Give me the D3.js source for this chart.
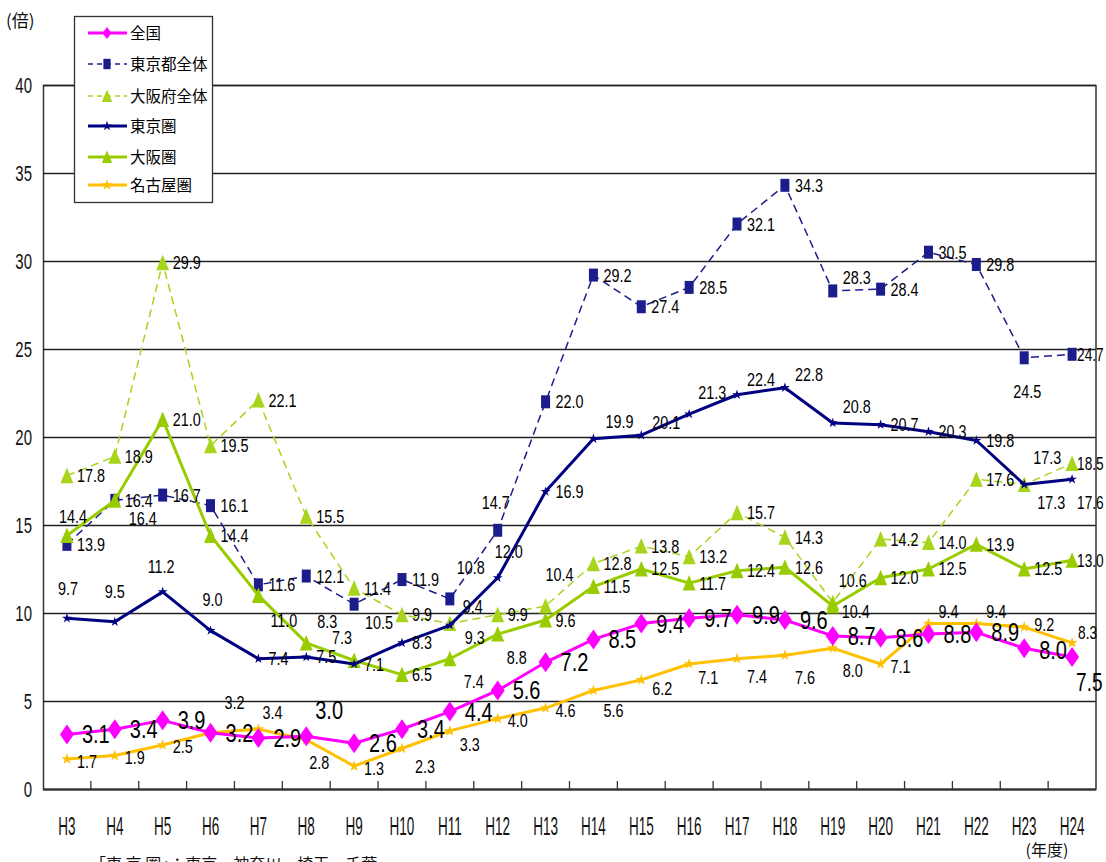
<!DOCTYPE html>
<html>
<head>
<meta charset="utf-8">
<script src="https://cdn.jsdelivr.net/npm/d3@7"></script>
<style>
  html, body { margin: 0; padding: 0; background: #fff; }
  svg { display: block; }
</style>
</head>
<body>
<div id="chart"></div>
<script>
// ---------- data ----------
const categories = ["H3","H4","H5","H6","H7","H8","H9","H10","H11","H12","H13","H14","H15","H16","H17","H18","H19","H20","H21","H22","H23","H24"];
const zenkoku     = [3.1,3.4,3.9,3.2,2.9,3.0,2.6,3.4,4.4,5.6,7.2,8.5,9.4,9.7,9.9,9.6,8.7,8.6,8.8,8.9,8.0,7.5];
const tokyoTo     = [13.9,16.4,16.7,16.1,11.6,12.1,10.5,11.9,10.8,14.7,22.0,29.2,27.4,28.5,32.1,34.3,28.3,28.4,30.5,29.8,24.5,24.7];
const osakaFu     = [17.8,18.9,29.9,19.5,22.1,15.5,11.4,9.9,9.4,9.9,10.4,12.8,13.8,13.2,15.7,14.3,10.6,14.2,14.0,17.6,17.3,18.5];
const tokyoKen    = [9.7,9.5,11.2,9.0,7.4,7.5,7.1,8.3,9.3,12.0,16.9,19.9,20.1,21.3,22.4,22.8,20.8,20.7,20.3,19.8,17.3,17.6];
const osakaKen    = [14.4,16.4,21.0,14.4,11.0,8.3,7.3,6.5,7.4,8.8,9.6,11.5,12.5,11.7,12.4,12.6,10.4,12.0,12.5,13.9,12.5,13.0];
const nagoyaKen   = [1.7,1.9,2.5,3.2,3.4,2.8,1.3,2.3,3.3,4.0,4.6,5.6,6.2,7.1,7.4,7.6,8.0,7.1,9.4,9.4,9.2,8.3];
const seriesNames = ["全国","東京都全体","大阪府全体","東京圏","大阪圏","名古屋圏"];
const yTicks = [0,5,10,15,20,25,30,35,40];
const yUnit = "(倍)";
const xUnit = "(年度)";
const note = "「東 京 圏」：東京・神奈川・埼玉・千葉";

(function () {
// ---------- layout / style ----------
const W = 1106, H = 862;
const pL = 43, pR = 1096, pT = 85, pB = 789;
const SANS = "'Liberation Sans', Arial, sans-serif";
const CJK = "'Noto Sans CJK JP','Noto Sans CJK SC',sans-serif";

const series = [
  { name: seriesNames[0], values: zenkoku,   color: "#FF00FF", width: 3,   dash: null,  marker: "diamond", big: true,
    def: [15, 0], over: {5: [9, -26], 20: [15, 2], 21: [4, 25]} },
  { name: seriesNames[1], values: tokyoTo,   color: "#1C1C8C", width: 1.5, dash: "8,5", marker: "square",
    def: [10, 0], over: {6: [11, 18], 8: [7, -31], 9: [-16, -28], 16: [10, -13], 20: [-11, 34], 21: [5, 0]} },
  { name: seriesNames[2], values: osakaFu,   color: "#A8D41C", width: 1.5, dash: "8,5", marker: "triangle",
    def: [10, 0], over: {8: [13, -17], 10: [0, -31], 16: [6, -22], 20: [9, -27], 21: [5, 0]} },
  { name: seriesNames[3], values: tokyoKen,  color: "#000080", width: 3,   dash: null,  marker: "star",
    def: [10, 0], over: {0: [-9, -30], 1: [-10, -30], 2: [-15, -25], 3: [-8, -31], 8: [15, 12], 9: [-3, -26],
                         11: [12, -17], 12: [11, -13], 13: [9, -22], 14: [10, -15], 15: [10, -13], 16: [10, -16],
                         20: [13, 18], 21: [5, 23]} },
  { name: seriesNames[4], values: osakaKen,  color: "#99CC00", width: 3,   dash: null,  marker: "triangle",
    def: [10, 0], over: {0: [-8, -19], 1: [14, 18], 4: [12, 25], 5: [11, -21], 6: [-22, -23], 8: [14, 23], 9: [9, 23], 16: [9, 6], 21: [5, 0]} },
  { name: seriesNames[5], values: nagoyaKen, color: "#FFC000", width: 3,   dash: null,  marker: "star2",
    def: [10, 2], over: {3: [14, -30], 4: [4, -17], 5: [3, 23], 7: [13, 18], 8: [10, 14], 11: [10, 20], 12: [11, 9],
                         13: [9, 13], 14: [10, 18], 15: [10, 22], 16: [10, 22], 18: [10, -12], 19: [10, -12], 20: [10, -3], 21: [6, -10]} }
];

// ---------- svg ----------
const svg = d3.select("#chart").append("svg")
  .attr("width", W).attr("height", H)
  .style("background", "#fff");

const x = d3.scaleBand().domain(categories).range([pL, pR]).paddingInner(0).paddingOuter(0);
const cx = c => x(c) + x.bandwidth() / 2;
const y = d3.scaleLinear().domain([0, 40]).range([pB, pT]);

// gridlines + y axis
const yAxis = d3.axisLeft(y).tickValues(yTicks).tickSize(-(pR - pL)).tickPadding(11).tickFormat(d3.format("d"));
const gy = svg.append("g").attr("transform", `translate(${pL},0)`).call(yAxis);
gy.select(".domain").attr("stroke", "#333").attr("stroke-width", 1.5);
gy.selectAll(".tick line").attr("stroke", "#222").attr("stroke-width", 1.6);
gy.selectAll(".tick text")
  .attr("x", 0)
  .attr("transform", "translate(-11,0) scale(0.68,1)")
  .attr("dy", "0.36em")
  .attr("font-family", SANS).attr("font-size", 22).attr("fill", "#111");

// right border
svg.append("line").attr("x1", pR).attr("x2", pR).attr("y1", pT).attr("y2", pB)
  .attr("stroke", "#333").attr("stroke-width", 1.5);

// x axis
const xAxis = d3.axisBottom(x).tickSize(0).tickPadding(0);
const gx = svg.append("g").attr("transform", `translate(0,${pB})`).call(xAxis);
gx.select(".domain").attr("stroke", "#333").attr("stroke-width", 2);
gx.selectAll(".tick text").remove();
gx.selectAll(".tick").each(function(d) {
  d3.select(this).append("text")
    .attr("transform", `translate(0,46) scale(0.52,1)`)
    .attr("text-anchor", "middle")
    .attr("font-family", SANS).attr("font-size", 26).attr("fill", "#111")
    .text(d);
});
// tick marks on band boundaries (inward)
svg.append("g").selectAll("line").data(categories.slice(1)).join("line")
  .attr("x1", d => x(d)).attr("x2", d => x(d))
  .attr("y1", pB).attr("y2", pB - 8)
  .attr("stroke", "#333").attr("stroke-width", 1.3);

// marker generator
function markerPath(type, big) {
  switch (type) {
    case "diamond": return big ? "M0,-10L7,0L0,10L-7,0Z" : "M0,-6L4.5,0L0,6L-4.5,0Z";
    case "square":  return "M-4.5,-6.5H4.5V6.5H-4.5Z";
    case "triangle":return "M0,-8L6.5,7.5H-6.5Z";
    case "star":    return d3.symbol(d3.symbolStar, 30)();
    case "star2":   return d3.symbol(d3.symbolStar, 40)();
  }
}

const line = d3.line().x((d, i) => cx(categories[i])).y(d => y(d));

// draw series (back to front: dashed ones first)
const drawOrder = [2, 1, 4, 3, 5, 0];
drawOrder.forEach(k => {
  const s = series[k];
  const g = svg.append("g");
  g.append("path").datum(s.values)
    .attr("d", line)
    .attr("fill", "none")
    .attr("stroke", s.color)
    .attr("stroke-width", s.width)
    .attr("stroke-dasharray", s.dash)
    .attr("stroke-linejoin", "round");
  g.selectAll("path.m").data(s.values).join("path")
    .attr("class", "m")
    .attr("d", markerPath(s.marker, s.big))
    .attr("transform", (d, i) => `translate(${cx(categories[i])},${y(d)})`)
    .attr("fill", s.color);
});

// labels (condensed via horizontal scale)
drawOrder.forEach(k => {
  const s = series[k];
  svg.append("g").selectAll("text").data(s.values).join("text")
    .attr("transform", (d, i) => {
      const o = s.over[i] || s.def;
      const sx = (i === categories.length - 1) ? 0.76 : 0.8;
      return `translate(${cx(categories[i]) + o[0]},${y(d) + o[1]}) scale(${sx},1)`;
    })
    .attr("dy", "0.36em")
    .attr("font-family", SANS)
    .attr("font-size", s.big ? 25 : 18)
    .attr("fill", "#000")
    .text(d => d.toFixed(1));
});

// legend
const lg = svg.append("g");
lg.append("rect").attr("x", 74.5).attr("y", 16.5).attr("width", 138).attr("height", 186)
  .attr("fill", "#fff").attr("stroke", "#333").attr("stroke-width", 1.3);
const legY = [33, 64, 96, 126, 157, 185];
series.forEach((s, i) => {
  const yy = legY[i];
  lg.append("line").attr("x1", 88).attr("x2", 127).attr("y1", yy).attr("y2", yy)
    .attr("stroke", s.color).attr("stroke-width", s.width).attr("stroke-dasharray", s.dash ? "5,4" : null);
  lg.append("path").attr("d", markerPath(s.marker, false))
    .attr("transform", `translate(107,${yy}) scale(${s.marker === "square" || s.marker === "triangle" ? 0.8 : 1})`)
    .attr("fill", s.color);
  lg.append("text").attr("x", 130).attr("y", yy).attr("dy", "0.36em")
    .attr("font-family", CJK).attr("font-size", 15.5).attr("fill", "#000").text(s.name);
});

// unit labels & note
svg.append("text").attr("x", 6).attr("y", 27).attr("font-family", CJK).attr("font-size", 17).attr("fill", "#111").text(yUnit);
svg.append("text").attr("x", 1047).attr("y", 856).attr("text-anchor", "middle")
  .attr("font-family", CJK).attr("font-size", 16).attr("fill", "#111").text(xUnit);
svg.append("text").attr("x", 90).attr("y", 870)
  .attr("font-family", CJK).attr("font-size", 16).attr("fill", "#111").text(note);
})();
</script>
</body>
</html>
